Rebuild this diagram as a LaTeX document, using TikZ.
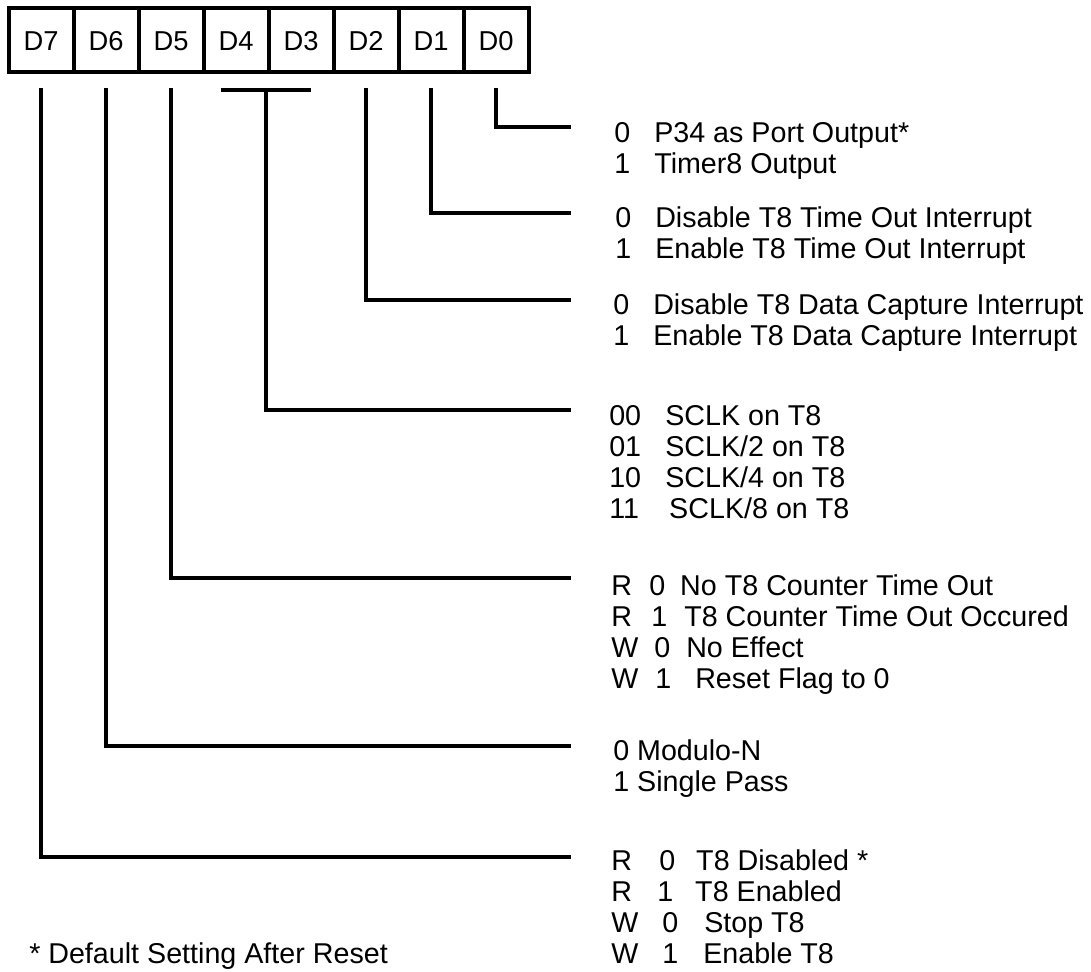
\documentclass[tikz,border=0pt]{standalone}
\usepackage{fontspec}
\setmainfont{Liberation Sans}
\usetikzlibrary{positioning}
\tikzset{
  celda/.style={draw, line width=3pt, minimum width=48.75pt, minimum height=48pt,
    inner sep=0pt, outer sep=0pt, text height=15pt, text depth=0pt,
    font=\fontsize{20.5}{22}\selectfont},
  linea/.style={line width=3pt},
  texto/.style={anchor=base west, inner sep=0pt, align=left,
    font=\fontsize{21.5}{23.25}\selectfont},
}
\newcommand{\fld}[2]{\makebox[#1pt][l]{#2}}

\begin{document}
\begin{tikzpicture}[x=0.75pt, y=-0.75pt]
\useasboundingbox (0,0) rectangle (1091,971);

% Registro de 8 bits
\node[celda] (b7) at (41,40) {D7};
\node[celda, right=0pt of b7] (b6) {D6};
\node[celda, right=0pt of b6] (b5) {D5};
\node[celda, right=0pt of b5] (b4) {D4};
\node[celda, right=0pt of b4] (b3) {D3};
\node[celda, right=0pt of b3] (b2) {D2};
\node[celda, right=0pt of b2] (b1) {D1};
\node[celda, right=0pt of b1] (b0) {D0};

% Descripciones de cada campo (anclas en la linea base de la ultima fila)
\node[texto] (t0) at (614,173) {\fld{30}{0}P34 as Port Output*\\ \fld{30}{1}Timer8 Output};
\node[texto] (t1) at (615,258.5) {\fld{30}{0}Disable T8 Time Out Interrupt\\ \fld{30}{1}Enable T8 Time Out Interrupt};
\node[texto] (t2) at (613,345) {\fld{30}{0}Disable T8 Data Capture Interrupt\\ \fld{30}{1}Enable T8 Data Capture Interrupt};
\node[texto] (t3) at (609,518) {\fld{42}{00}SCLK on T8\\ \fld{42}{01}SCLK/2 on T8\\
  \fld{42}{10}SCLK/4 on T8\\ \fld{45}{11}SCLK/8 on T8};
\node[texto] (t5) at (611,688) {\fld{28.5}{R}\fld{23.25}{0}No T8 Counter Time Out\\
  \fld{30}{R}\fld{24.75}{1}T8 Counter Time Out Occured\\
  \fld{32.25}{W}\fld{24}{0}No Effect\\
  \fld{33}{W}\fld{30}{1}Reset Flag to 0};
\node[texto] (t6) at (613,791.7) {0 Modulo-N\\ 1 Single Pass};
\node[texto] (t7) at (611,963) {\fld{36}{R}\fld{27.75}{0}T8 Disabled *\\
  \fld{34.5}{R}\fld{28.5}{1}T8 Enabled\\
  \fld{38.25}{W}\fld{31.5}{0}Stop T8\\
  \fld{38.25}{W}\fld{30.75}{1}Enable T8};

% Nota al pie
\node[texto] (nota) at (29,963) {* Default Setting After Reset};

% Extremos de las lineas
\coordinate (e0) at (571,127);
\coordinate (e1) at (571,213);
\coordinate (e2) at (571,300);
\coordinate (e3) at (571,410);
\coordinate (e5) at (571,578);
\coordinate (e6) at (571,746);
\coordinate (e7) at (571,857);
\coordinate (j43) at (266,90);

% Lineas desde cada bit
\draw[linea] ([yshift=-12pt]b0.south) |- (e0);
\draw[linea] ([yshift=-12pt]b1.south) |- (e1);
\draw[linea] ([yshift=-12pt]b2.south) |- (e2);
\draw[linea] ([xshift=-11.25pt]b4.south |- j43) -- ([xshift=7.5pt]b3.south |- j43);
\draw[linea] (j43) |- (e3);
\draw[linea] ([yshift=-12pt]b5.south) |- (e5);
\draw[linea] ([yshift=-12pt]b6.south) |- (e6);
\draw[linea] ([yshift=-12pt]b7.south) |- (e7);
\end{tikzpicture}
\end{document}
